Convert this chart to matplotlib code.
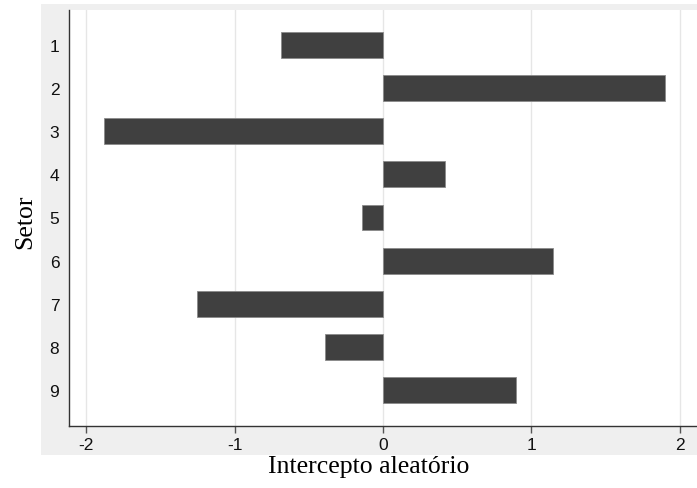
import matplotlib
matplotlib.use("Agg")
import matplotlib.pyplot as plt
from matplotlib.patches import Rectangle

setores = [1, 2, 3, 4, 5, 6, 7, 8, 9]
intercepto = [-0.69, 1.90, -1.88, 0.42, -0.14, 1.145, -1.255, -0.39, 0.895]
xticks = [-2, -1, 0, 1, 2]

W, H = 697, 489
fig = plt.figure(figsize=(W / 100, H / 100), dpi=100)
fig.patch.set_facecolor("white")

# gray outer panel
fig.patches.append(Rectangle((41 / W, 1 - 456 / H), 1 - 41 / W, (456 - 5) / H,
                             transform=fig.transFigure, facecolor="#efefef",
                             edgecolor="none", zorder=-5))

ax = fig.add_axes([69 / W, 1 - 427 / H, 1 - 69 / W, (427 - 11) / H])
ax.set_zorder(2)
ax.set_facecolor("white")
ax.barh(setores, intercepto, height=0.6, color="#404040", edgecolor="#8a8a8a",
        linewidth=0.6, zorder=3)
ax.set_xlim(-2.115, 2.115)
ax.set_ylim(9.835, 0.19)
ax.set_xticks(xticks)
ax.set_xticklabels([str(t) for t in xticks], fontsize=12.5, family="Liberation Sans")
ax.set_yticks(setores)
ax.set_yticklabels([str(s) for s in setores], fontsize=12.5, family="Liberation Sans")
ax.grid(axis="x", color="#e6e6e6", linewidth=1.0, zorder=0)
ax.set_axisbelow(True)
for s in ["top", "right"]:
    ax.spines[s].set_visible(False)
for s in ["left", "bottom"]:
    ax.spines[s].set_color("#333333")
    ax.spines[s].set_linewidth(1.0)
ax.tick_params(axis="y", length=0, pad=7, colors="#111111")
ax.tick_params(axis="x", length=5, width=1, color="#555555", pad=3, labelcolor="#111111")

fig.text(369 / W, 1 - 467 / H, "Intercepto aleatório", ha="center", va="center",
         fontsize=18.5, family="Liberation Serif")
fig.text(25 / W, 1 - 222 / H, "Setor", ha="center", va="center", rotation=90,
         fontsize=18.5, family="Liberation Serif")

fig.savefig("out.png", dpi=100)
